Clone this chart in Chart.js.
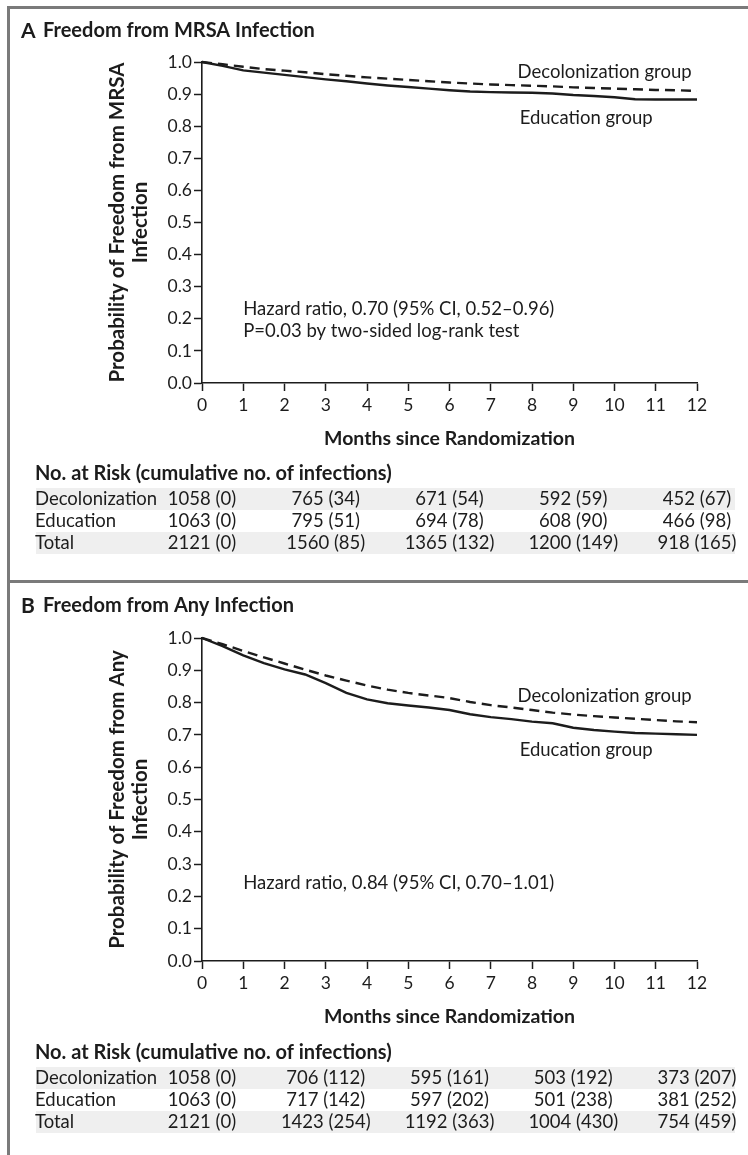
<!DOCTYPE html>
<html>
<head>
<meta charset="utf-8">
<script src="https://cdn.jsdelivr.net/npm/chart.js@4.4.1/dist/chart.umd.min.js"></script>
<style>
body { margin: 0; background: #fff; }
#page { position: relative; width: 748px; height: 1155px; overflow: hidden; }
.frame { position: absolute; background: #7a7a7a; }
.panel { position: absolute; left: 0; width: 748px; }
canvas { display: block; }
</style>
</head>
<body>
<div id="page">
    <div class="frame" style="left:7px;top:6px;width:741px;height:3px"></div>
    <div class="frame" style="left:7px;top:6px;width:3px;height:1149px"></div>
    <div class="frame" style="left:7px;top:580px;width:741px;height:3px"></div>
    <div class="panel" style="top:0;height:578px"><canvas id="chartA" width="748" height="578"></canvas></div>
    <div class="panel" style="top:578px;height:577px"><canvas id="chartB" width="748" height="577"></canvas></div>
</div>
<script>
// Kaplan-Meier estimates (months since randomization)
const months = [0, 0.5, 1, 1.5, 2, 2.5, 3, 3.5, 4, 4.5, 5, 5.5, 6, 6.5, 7, 7.5, 8, 8.5, 9, 9.5, 10, 10.5, 11, 11.5, 12];

const mrsaDecolonization = [1.0, 0.993, 0.985, 0.978, 0.973, 0.968, 0.962, 0.957, 0.952, 0.948, 0.944, 0.940, 0.936, 0.933, 0.930, 0.928, 0.926, 0.924, 0.921, 0.919, 0.917, 0.915, 0.913, 0.912, 0.910];
const mrsaEducation = [1.0, 0.988, 0.974, 0.967, 0.960, 0.953, 0.946, 0.940, 0.933, 0.927, 0.922, 0.917, 0.912, 0.908, 0.906, 0.905, 0.904, 0.902, 0.897, 0.894, 0.890, 0.884, 0.883, 0.883, 0.883];

const anyDecolonization = [1.0, 0.981, 0.960, 0.940, 0.921, 0.902, 0.884, 0.868, 0.853, 0.840, 0.830, 0.822, 0.814, 0.802, 0.792, 0.785, 0.777, 0.769, 0.763, 0.758, 0.754, 0.750, 0.746, 0.742, 0.739];
const anyEducation = [1.0, 0.975, 0.946, 0.922, 0.903, 0.887, 0.860, 0.830, 0.810, 0.798, 0.791, 0.785, 0.777, 0.764, 0.755, 0.749, 0.741, 0.736, 0.722, 0.715, 0.710, 0.706, 0.704, 0.702, 0.700];

// Number at risk table
const riskMonths = [0, 3, 6, 9, 12];
const riskGroups = ['Decolonization', 'Education', 'Total'];
const mrsaRisk = [
    ['1058 (0)', '765 (34)', '671 (54)', '592 (59)', '452 (67)'],
    ['1063 (0)', '795 (51)', '694 (78)', '608 (90)', '466 (98)'],
    ['2121 (0)', '1560 (85)', '1365 (132)', '1200 (149)', '918 (165)']
];
const anyRisk = [
    ['1058 (0)', '706 (112)', '595 (161)', '503 (192)', '373 (207)'],
    ['1063 (0)', '717 (142)', '597 (202)', '501 (238)', '381 (252)'],
    ['2121 (0)', '1423 (254)', '1192 (363)', '1004 (430)', '754 (459)']
];

const FONT = 'Lato, "Open Sans", sans-serif';
const INK = '#1c1c1c';

const toPoints = vals => months.map((m, i) => ({ x: m, y: vals[i] }));

function panelText(cfg) {
    return {
        id: 'panelText',
        afterDraw(chart) {
            const { ctx, scales: { x, y } } = chart;
            ctx.save();
            ctx.fillStyle = INK;
            ctx.textBaseline = 'middle';
            ctx.textAlign = 'left';

            // panel heading
            ctx.font = 'bold 21px ' + FONT;
            ctx.fillText(cfg.letter, 21, cfg.titleY);
            ctx.font = 'bold 20px ' + FONT;
            ctx.fillText(cfg.title, 43, cfg.titleY);

            // curve labels and statistics
            ctx.font = '18.5px ' + FONT;
            cfg.labels.forEach(l => {
                ctx.fillText(l.text, x.getPixelForValue(l.x), y.getPixelForValue(l.y));
            });

            // at-risk table
            const rowY = cfg.tableY + 25;
            const rowH = 22;
            ctx.fillStyle = '#efefef';
            [0, 2].forEach(r => ctx.fillRect(36, rowY + r * rowH - rowH / 2, 699, rowH));
            ctx.fillStyle = INK;
            ctx.font = 'bold 20px ' + FONT;
            ctx.fillText('No. at Risk (cumulative no. of infections)', 35, cfg.tableY);
            ctx.font = '18.5px ' + FONT;
            riskGroups.forEach((g, r) => {
                const yy = rowY + r * rowH;
                ctx.textAlign = 'left';
                ctx.fillText(g, 35, yy);
                ctx.textAlign = 'center';
                cfg.risk[r].forEach((v, j) => {
                    ctx.fillText(v, x.getPixelForValue(riskMonths[j]), yy);
                });
            });
            ctx.restore();
        }
    };
}

function makeChart(id, cfg) {
    return new Chart(document.getElementById(id), {
        type: 'line',
        data: {
            datasets: [{
                label: 'Decolonization group',
                data: toPoints(cfg.decol),
                borderColor: INK,
                borderWidth: 2.4,
                borderDash: [10, 6],
                pointRadius: 0,
                fill: false,
                clip: 6
            }, {
                label: 'Education group',
                data: toPoints(cfg.edu),
                borderColor: INK,
                borderWidth: 2.4,
                pointRadius: 0,
                fill: false,
                clip: 6
            }]
        },
        options: {
            responsive: false,
            animation: false,
            layout: { padding: { left: 0, right: 51, top: cfg.top, bottom: cfg.bottom } },
            plugins: { legend: { display: false }, tooltip: { enabled: false } },
            scales: {
                x: {
                    type: 'linear',
                    min: 0,
                    max: 12,
                    afterFit: s => { s.height = 67; },
                    ticks: { stepSize: 1, color: INK, font: { family: FONT, size: 17.5 }, padding: 4, maxRotation: 0 },
                    grid: { drawOnChartArea: false, drawTicks: true, tickLength: 8, tickColor: INK, tickWidth: 1.5 },
                    border: { display: true, color: INK, width: 1.6 },
                    title: {
                        display: true,
                        text: 'Months since Randomization',
                        color: INK,
                        font: { family: FONT, size: 19.5, weight: 'bold', lineHeight: 1.2 },
                        padding: { top: 0, bottom: 0 }
                    }
                },
                y: {
                    min: 0,
                    max: 1,
                    afterFit: s => { s.width = 202; },
                    ticks: { stepSize: 0.1, color: INK, font: { family: FONT, size: 17.5 }, padding: 2, callback: v => v.toFixed(1) },
                    grid: { drawOnChartArea: false, drawTicks: true, tickLength: 8, tickColor: INK, tickWidth: 1.5 },
                    border: { display: true, color: INK, width: 1.6 },
                    title: {
                        display: true,
                        text: cfg.yTitle,
                        color: INK,
                        font: { family: FONT, size: 20.5, weight: 'bold', lineHeight: 1.12 },
                        padding: { top: 106, bottom: 0 }
                    }
                }
            }
        },
        plugins: [panelText(cfg)]
    });
}

makeChart('chartA', {
    decol: mrsaDecolonization,
    edu: mrsaEducation,
    risk: mrsaRisk,
    top: 62,
    bottom: 128,
    letter: 'A',
    title: 'Freedom from MRSA Infection',
    titleY: 31,
    tableY: 474,
    yTitle: ['Probability of Freedom from MRSA', 'Infection'],
    labels: [
        { text: 'Decolonization group', x: 7.65, y: 0.97 },
        { text: 'Education group', x: 7.7, y: 0.826 },
        { text: 'Hazard ratio, 0.70 (95% CI, 0.52\u20130.96)', x: 1.0, y: 0.23 },
        { text: 'P=0.03 by two-sided log-rank test', x: 1.0, y: 0.162 }
    ]
});

makeChart('chartB', {
    decol: anyDecolonization,
    edu: anyEducation,
    risk: anyRisk,
    top: 60,
    bottom: 127,
    letter: 'B',
    title: 'Freedom from Any Infection',
    titleY: 28,
    tableY: 475,
    yTitle: ['Probability of Freedom from Any', 'Infection'],
    labels: [
        { text: 'Decolonization group', x: 7.65, y: 0.82 },
        { text: 'Education group', x: 7.7, y: 0.653 },
        { text: 'Hazard ratio, 0.84 (95% CI, 0.70\u20131.01)', x: 1.0, y: 0.24 }
    ]
});
</script>
</body>
</html>
